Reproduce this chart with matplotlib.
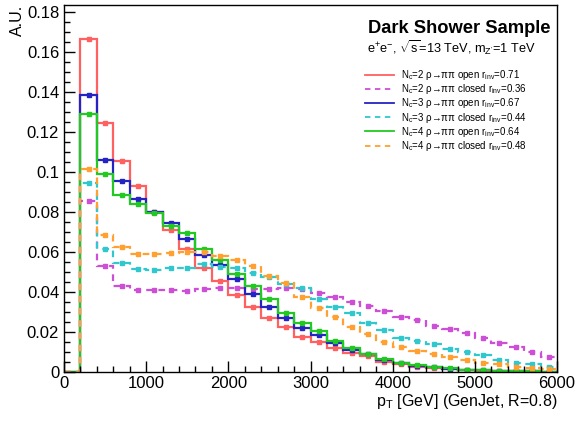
import numpy as np
import matplotlib
matplotlib.use("Agg")
import matplotlib.pyplot as plt
from matplotlib.lines import Line2D
from matplotlib.ticker import MultipleLocator, FuncFormatter

plt.rcParams['font.family'] = ['Liberation Sans', 'DejaVu Sans']
plt.rcParams['mathtext.fontset'] = 'custom'
plt.rcParams['mathtext.rm'] = 'Liberation Sans'
plt.rcParams['mathtext.it'] = 'Liberation Sans:italic'

# bin edges in GeV (200 GeV bins, 0 - 6000)
edges = np.arange(0, 6001, 200)

nc2_open = [0, 0.1665, 0.1243, 0.1053, 0.0932, 0.0802, 0.0710, 0.0616, 0.0520, 0.0454,
            0.0386, 0.0323, 0.0272, 0.0227, 0.0177, 0.0152, 0.0118, 0.0093, 0.0080, 0.0052,
            0.0038, 0.0027, 0.0020, 0.0015, 0.0010, 0.0007, 0.0005, 0.0004, 0.0003, 0.0002]
nc2_closed = [0, 0.0855, 0.0530, 0.0432, 0.0412, 0.0411, 0.0408, 0.0406, 0.0417, 0.0421,
              0.0418, 0.0415, 0.0417, 0.0420, 0.0414, 0.0397, 0.0373, 0.0352, 0.0329, 0.0306,
              0.0277, 0.0260, 0.0232, 0.0213, 0.0193, 0.0172, 0.0147, 0.0125, 0.0102, 0.0076]
nc3_open = [0, 0.1383, 0.1060, 0.0956, 0.0867, 0.0801, 0.0745, 0.0664, 0.0587, 0.0537,
            0.0463, 0.0388, 0.0327, 0.0272, 0.0218, 0.0185, 0.0143, 0.0110, 0.0088, 0.0060,
            0.0047, 0.0032, 0.0024, 0.0017, 0.0012, 0.0009, 0.0006, 0.0005, 0.0003, 0.0002]
nc3_closed = [0, 0.0943, 0.0617, 0.0543, 0.0516, 0.0512, 0.0520, 0.0522, 0.0540, 0.0523,
              0.0521, 0.0497, 0.0475, 0.0440, 0.0418, 0.0367, 0.0327, 0.0293, 0.0243, 0.0210,
              0.0172, 0.0157, 0.0138, 0.0115, 0.0102, 0.0085, 0.0060, 0.0047, 0.0040, 0.0025]
nc4_open = [0, 0.1288, 0.0988, 0.0886, 0.0840, 0.0797, 0.0728, 0.0697, 0.0617, 0.0560,
            0.0488, 0.0431, 0.0363, 0.0297, 0.0247, 0.0203, 0.0157, 0.0122, 0.0092, 0.0065,
            0.0045, 0.0035, 0.0024, 0.0018, 0.0012, 0.0008, 0.0006, 0.0004, 0.0003, 0.0002]
nc4_closed = [0, 0.1013, 0.0686, 0.0623, 0.0589, 0.0589, 0.0597, 0.0600, 0.0598, 0.0580,
              0.0562, 0.0528, 0.0482, 0.0443, 0.0373, 0.0318, 0.0276, 0.0226, 0.0189, 0.0149,
              0.0125, 0.0105, 0.0090, 0.0077, 0.0060, 0.0047, 0.0039, 0.0027, 0.0022, 0.0017]

labels = [r"$\mathregular{N_{c}}$=2 ρ→ππ open $\mathregular{r_{inv}}$=0.71",
          r"$\mathregular{N_{c}}$=2 ρ→ππ closed $\mathregular{r_{inv}}$=0.36",
          r"$\mathregular{N_{c}}$=3 ρ→ππ open $\mathregular{r_{inv}}$=0.67",
          r"$\mathregular{N_{c}}$=3 ρ→ππ closed $\mathregular{r_{inv}}$=0.44",
          r"$\mathregular{N_{c}}$=4 ρ→ππ open $\mathregular{r_{inv}}$=0.64",
          r"$\mathregular{N_{c}}$=4 ρ→ππ closed $\mathregular{r_{inv}}$=0.48"]
series = [nc2_open, nc2_closed, nc3_open, nc3_closed, nc4_open, nc4_closed]
colors = ['#ff6060', '#cc4fd6', '#2424c4', '#30c8cc', '#22c922', '#ffa030']
styles = ['-', (0, (3, 2.5)), '-', (0, (3, 2.5)), '-', (0, (3, 2.5))]
ERR = 0.0010  # size of the little stat error bars

fig = plt.figure(figsize=(5.81, 4.23), dpi=100)
ax = fig.add_axes([64 / 581, 51 / 423, 493 / 581, 367 / 423])

centers = 0.5 * (edges[:-1] + edges[1:])
handles = []
for vals, col, ls, lab in zip(series, colors, styles, labels):
    vals = np.array(vals)
    ax.stairs(vals, edges, baseline=None, color=col, linestyle=ls, linewidth=1.6)
    m = vals > 0
    ax.errorbar(centers[m], vals[m], yerr=ERR, fmt='s', ms=2.2, color=col,
                elinewidth=1.2, capsize=0, linestyle='none')
    handles.append(Line2D([], [], color=col, linestyle=ls, linewidth=1.3))

ax.set_xlim(0, 6000)
ax.set_ylim(0, 0.1835)
ax.xaxis.set_major_locator(MultipleLocator(1000))
ax.xaxis.set_minor_locator(MultipleLocator(200))
ax.yaxis.set_major_locator(MultipleLocator(0.02))
ax.yaxis.set_minor_locator(MultipleLocator(0.005))
ax.yaxis.set_major_formatter(FuncFormatter(lambda v, p: f"{v:g}"))
ax.tick_params(which='both', direction='in', top=False, right=False, labelsize=12)
ax.tick_params(which='major', length=8, width=1)
ax.tick_params(which='minor', length=4.5, width=1)
ax.tick_params(axis='x', pad=3)
for s in ax.spines.values():
    s.set_linewidth(1)

fig.text(557 / 581, 1 - 406 / 423, r"$\mathregular{p_{T}}$ [GeV] (GenJet, R=0.8)",
         ha='right', va='baseline', fontsize=11.5)
fig.text(17 / 581, 1 - 5 / 423, "A.U.", rotation=90, ha='center', va='top', fontsize=11.5)

fig.text(368 / 581, 1 - 33 / 423, "Dark Shower Sample", fontsize=13.2, weight='bold',
         ha='left', va='baseline')
fig.text(367 / 581, 1 - 53 / 423,
         r"$\mathregular{e^{+}e^{-}}$, $\mathregular{\sqrt{s}}$=13 TeV, $\mathregular{m_{Z'}}$=1 TeV",
         fontsize=9.2, ha='left', va='baseline')

ax.legend(handles, labels, loc='upper left', bbox_to_anchor=(365 / 581, 1 - 68 / 423),
          bbox_transform=fig.transFigure, frameon=False, fontsize=7, borderpad=0,
          borderaxespad=0, handlelength=3.0, handletextpad=0.7, labelspacing=0.02)

fig.savefig("out.png", dpi=100)
